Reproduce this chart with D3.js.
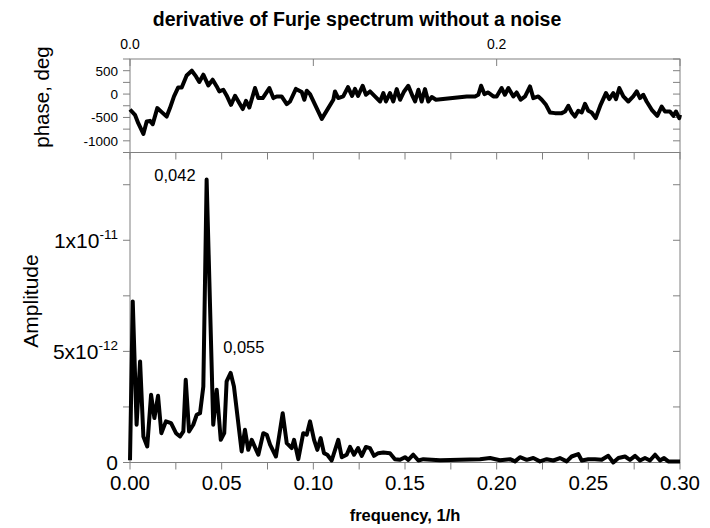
<!DOCTYPE html>
<html>
<head>
  <meta charset="utf-8" />
  <title>Furje spectrum</title>
  <style>
    body { margin: 0; background: #fff; }
    svg { font-family: Arial, "Liberation Sans", sans-serif; }
    .frame { fill: none; stroke: #808080; stroke-width: 1; }
    .tick { stroke: #808080; stroke-width: 1; }
    .curve { fill: none; stroke: #000; stroke-width: 4; stroke-linejoin: round; }
  </style>
  <script src="https://cdnjs.cloudflare.com/ajax/libs/d3/7.8.5/d3.min.js"></script>
</head>
<body>
  <script>
    // amplitude spectrum (frequency in 1/h, amplitude in units of 1e-12)
    var ampFreq = [0, 0.0015, 0.0036, 0.0055, 0.0073, 0.0094, 0.0115, 0.0133, 0.0153, 0.0171,
      0.0196, 0.0224, 0.0251, 0.0273, 0.0291, 0.0304, 0.0322, 0.0345, 0.0364, 0.0382,
      0.0400, 0.0418, 0.0454, 0.0473, 0.0495, 0.0514, 0.0527, 0.0549, 0.0567, 0.0609,
      0.0627, 0.0645, 0.0664, 0.0700, 0.0727, 0.0746, 0.0764, 0.0796, 0.0833, 0.0855,
      0.0882, 0.0895, 0.0918, 0.0945, 0.0964, 0.0982, 0.1004, 0.1022, 0.1040, 0.1058,
      0.1076, 0.1100, 0.1136, 0.1155, 0.1182, 0.1200, 0.1222, 0.1244, 0.1264, 0.1287,
      0.1309, 0.1331, 0.1354, 0.1382, 0.1418, 0.1445, 0.1473, 0.1500, 0.1518, 0.1545,
      0.1573, 0.1600, 0.1691, 0.1800, 0.1909, 0.1964, 0.2018, 0.2073, 0.2100, 0.2127,
      0.2164, 0.2200, 0.2236, 0.2273, 0.2309, 0.2345, 0.2382, 0.2409, 0.2445, 0.2464,
      0.2500, 0.2536, 0.2573, 0.2609, 0.2636, 0.2664, 0.2700, 0.2727, 0.2755, 0.2782,
      0.2809, 0.2836, 0.2864, 0.2891, 0.2913, 0.2936, 0.2964, 0.2991, 0.3000];
    var ampValue = [0.1, 7.25, 1.7, 4.55, 1.17, 0.72, 3.05, 2.0, 3.0, 1.32,
      1.85, 1.77, 1.32, 1.17, 1.4, 3.72, 1.4, 1.7, 2.15, 2.22,
      3.42, 12.73, 1.7, 3.27, 1.02, 1.32, 3.65, 4.03, 3.42, 0.5,
      1.47, 0.57, 1.02, 0.35, 1.32, 1.25, 0.8, 0.27, 2.22, 0.87,
      0.65, 1.02, 0.15, 1.32, 1.25, 1.85, 1.02, 0.57, 1.1, 0.42,
      0.35, 0.09, 1.02, 0.24, 0.35, 0.7, 0.35, 0.65, 0.3, 0.7,
      0.65, 0.3, 0.42, 0.45, 0.42, 0.15, 0.12, 0.24, 0.12, 0.35,
      0.09, 0.15, 0.1, 0.12, 0.15, 0.2, 0.1, 0.15, 0.05, 0.24,
      0.12, 0.2, 0.05, 0.15, 0.09, 0.2, 0.05, 0.27, 0.38, 0.09,
      0.15, 0.15, 0.12, 0.3, 0.0, 0.2, 0.27, 0.12, 0.3, 0.09,
      0.2, 0.09, 0.35, 0.09, 0.2, 0.05, 0.05, 0.05, 0.05];

    // phase spectrum (deg)
    var phaseFreq = [0, 0.0027, 0.0045, 0.0073, 0.0091, 0.0109, 0.0124, 0.0149, 0.0173, 0.0200,
      0.0218, 0.0240, 0.0263, 0.0282, 0.0309, 0.0337, 0.0360, 0.0378, 0.0400, 0.0427,
      0.0451, 0.0473, 0.0487, 0.0509, 0.0527, 0.0551, 0.0573, 0.0596, 0.0615, 0.0633,
      0.0651, 0.0682, 0.0700, 0.0724, 0.0760, 0.0782, 0.0800, 0.0827, 0.0855, 0.0873,
      0.0905, 0.0937, 0.0951, 0.0964, 0.0982, 0.1046, 0.1109, 0.1118, 0.1136, 0.1163,
      0.1189, 0.1211, 0.1227, 0.1244, 0.1269, 0.1287, 0.1309, 0.1336, 0.1364, 0.1382,
      0.1396, 0.1418, 0.1436, 0.1455, 0.1473, 0.1495, 0.1518, 0.1542, 0.1555, 0.1573,
      0.1591, 0.1609, 0.1627, 0.1646, 0.1669, 0.1837, 0.1882, 0.1900, 0.1915, 0.1933,
      0.1954, 0.1982, 0.2000, 0.2027, 0.2045, 0.2064, 0.2091, 0.2109, 0.2131, 0.2155,
      0.2182, 0.2200, 0.2227, 0.2246, 0.2269, 0.2291, 0.2318, 0.2355, 0.2373, 0.2391,
      0.2409, 0.2427, 0.2445, 0.2464, 0.2482, 0.2500, 0.2518, 0.2540, 0.2567, 0.2596,
      0.2614, 0.2636, 0.2651, 0.2669, 0.2691, 0.2718, 0.2745, 0.2764, 0.2782, 0.2800,
      0.2818, 0.2846, 0.2876, 0.2900, 0.2918, 0.2945, 0.2964, 0.2978, 0.2996, 0.3000];
    var phaseValue = [-330, -444, -622, -852, -588, -573, -644, -300, -386, -481,
      -300, -51, 142, 142, 399, 500, 378, 258, 414, 185,
      307, 163, 56, 92, -30, -230, -36, -193, -322, -144,
      -288, 129, -86, -86, 129, -86, -51, -51, -215, -159,
      110, 43, -122, 71, 0, -530, -122, 56, -86, -51,
      150, -40, 110, -40, 178, -15, 56, -51, -159, 21,
      -159, 21, -159, 107, -122, 56, 178, -51, -159, 92,
      -159, 107, -159, -64, -122, -51, -51, -15, 178, 0,
      34, -51, -51, 129, -15, 129, -51, 34, -122, -51,
      163, -86, -51, -122, -230, -394, -408, -408, -373, -251,
      -394, -481, -358, -394, -208, -358, -394, -515, -230, 21,
      -107, 21, -107, 129, -51, -159, -51, 56, -86, -15,
      -159, -337, -466, -266, -373, -373, -466, -373, -515, -444];

    var bottomTicks = [0, 0.05, 0.10, 0.15, 0.20, 0.25, 0.30];
    var topTicks = [0, 0.2];
    var phaseTicks = [-1000, -500, 0, 500];
    var ampTicks = [0, 5, 10];
    var notes = [{ f: 0.042, a: 12.73, text: "0,042" }, { f: 0.055, a: 4.03, text: "0,055" }];

    var W = 710, H = 528;
    var left = 130, right = 680;
    var topPanel = { y0: 59, y1: 152.5 };
    var botPanel = { y0: 152.5, y1: 462.5 };
    var tl = 7;

    var svg = d3.select("body").append("svg").attr("width", W).attr("height", H);

    var x = d3.scaleLinear().domain([0, 0.3]).range([left, right]);
    var yp = d3.scaleLinear().domain([-1250, 750]).range([topPanel.y1, topPanel.y0]);
    var ya = d3.scaleLinear().domain([0, 13.95]).range([botPanel.y1, botPanel.y0]);

    var minorX = d3.range(0, 0.3001, 0.025);

    // title
    svg.append("text").attr("x", 357).attr("y", 26).attr("text-anchor", "middle")
      .style("font-weight", "bold").style("font-size", "19.5px")
      .text("derivative of Furje spectrum without a noise");

    // ---- top panel (phase)
    svg.append("rect").attr("class", "frame")
      .attr("x", left).attr("y", topPanel.y0)
      .attr("width", right - left).attr("height", topPanel.y1 - topPanel.y0);

    var gTop = svg.append("g");
    [0, 0.1, 0.2, 0.3].forEach(function (v) {
      gTop.append("line").attr("class", "tick")
        .attr("x1", x(v)).attr("x2", x(v)).attr("y1", topPanel.y0).attr("y2", topPanel.y0 + tl);
    });
    topTicks.forEach(function (v) {
      gTop.append("text").attr("x", x(v)).attr("y", 49).attr("text-anchor", "middle")
        .style("font-size", "14px").text(d3.format(".1f")(v));
    });
    d3.range(-1250, 751, 250).forEach(function (v) {
      gTop.append("line").attr("class", "tick")
        .attr("x1", left - tl).attr("x2", left).attr("y1", yp(v)).attr("y2", yp(v));
      gTop.append("line").attr("class", "tick")
        .attr("x1", right - tl).attr("x2", right).attr("y1", yp(v)).attr("y2", yp(v));
    });
    phaseTicks.forEach(function (v) {
      gTop.append("text").attr("x", left - 12).attr("y", yp(v) + 5)
        .attr("text-anchor", "end").style("font-size", "13.5px").text(v);
    });
    svg.append("text")
      .attr("transform", "translate(49,97) rotate(-90)")
      .attr("text-anchor", "middle").style("font-size", "20.5px").text("phase, deg");

    var phaseLine = d3.line()
      .x(function (d, i) { return x(phaseFreq[i]); })
      .y(function (d) { return yp(d); });
    svg.append("path").datum(phaseValue).attr("class", "curve").attr("d", phaseLine);

    // ---- bottom panel (amplitude)
    svg.append("rect").attr("class", "frame")
      .attr("x", left).attr("y", botPanel.y0)
      .attr("width", right - left).attr("height", botPanel.y1 - botPanel.y0);

    var gBot = svg.append("g");
    minorX.forEach(function (v) {
      gBot.append("line").attr("class", "tick")
        .attr("x1", x(v)).attr("x2", x(v)).attr("y1", botPanel.y1).attr("y2", botPanel.y1 + tl);
      gBot.append("line").attr("class", "tick")
        .attr("x1", x(v)).attr("x2", x(v)).attr("y1", botPanel.y0).attr("y2", botPanel.y0 + tl);
    });
    bottomTicks.forEach(function (v) {
      gBot.append("text").attr("x", x(v)).attr("y", 490).attr("text-anchor", "middle")
        .style("font-size", "20.5px").text(d3.format(".2f")(v));
    });
    d3.range(0, 13.9, 2.5).forEach(function (v) {
      gBot.append("line").attr("class", "tick")
        .attr("x1", left - tl).attr("x2", left).attr("y1", ya(v)).attr("y2", ya(v));
      gBot.append("line").attr("class", "tick")
        .attr("x1", right - tl).attr("x2", right).attr("y1", ya(v)).attr("y2", ya(v));
    });
    ampTicks.forEach(function (v) {
      var t = gBot.append("text").attr("y", ya(v) + 7.5).attr("text-anchor", "end")
        .style("font-size", "21px");
      if (v === 0) {
        t.attr("x", left - 12).text("0");
      } else {
        var m = v >= 10 ? 1 : 5, e = v >= 10 ? -11 : -12;
        t.attr("x", left - 12);
        t.append("tspan").text(m + "x10");
        t.append("tspan").attr("dy", -9).style("font-size", "13.5px").text(e);
      }
    });
    svg.append("text")
      .attr("transform", "translate(38,301) rotate(-90)")
      .attr("text-anchor", "middle").style("font-size", "21px").text("Amplitude");

    svg.append("text").attr("x", 405).attr("y", 521).attr("text-anchor", "middle")
      .style("font-weight", "bold").style("font-size", "16.5px").text("frequency, 1/h");

    var ampLine = d3.line()
      .x(function (d, i) { return x(ampFreq[i]); })
      .y(function (d) { return ya(d); });
    svg.append("path").datum(ampValue).attr("class", "curve").attr("d", ampLine);

    // peak labels
    svg.append("text").attr("x", x(notes[0].f) - 32).attr("y", ya(notes[0].a) + 1)
      .attr("text-anchor", "middle").style("font-size", "16.5px").text(notes[0].text);
    svg.append("text").attr("x", x(notes[1].f) + 13).attr("y", ya(notes[1].a) - 20)
      .attr("text-anchor", "middle").style("font-size", "16.5px").text(notes[1].text);
  </script>
</body>
</html>
